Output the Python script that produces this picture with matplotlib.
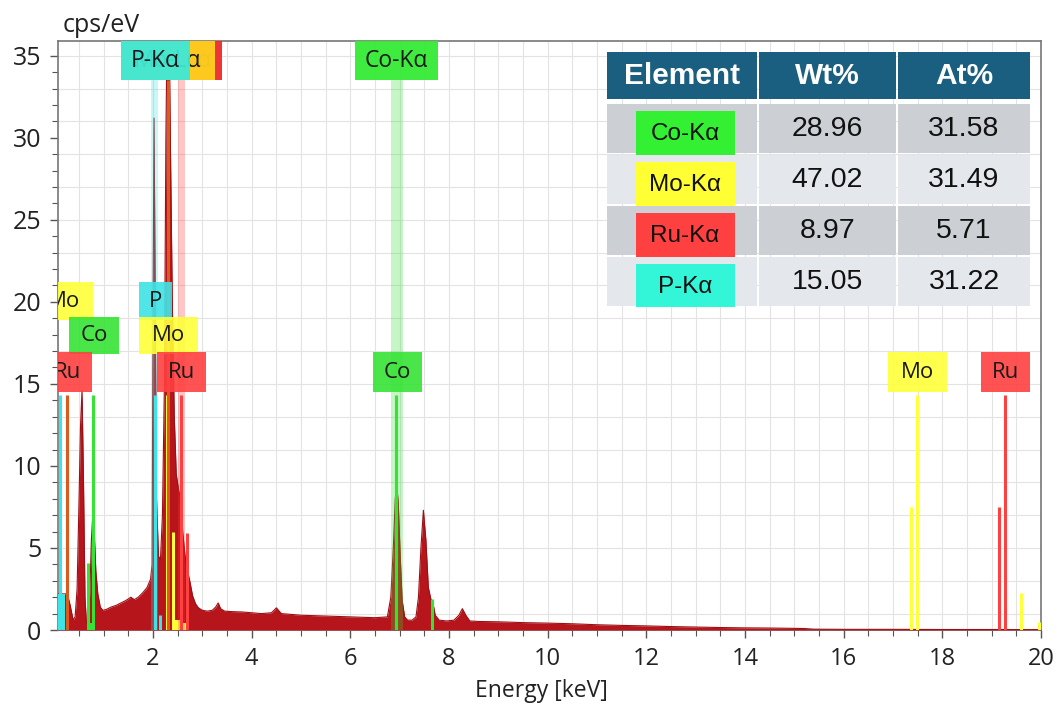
import matplotlib
matplotlib.use("Agg")
import matplotlib.pyplot as plt
from matplotlib.patches import Rectangle
from matplotlib.ticker import MultipleLocator

# spectrum (keV, cps/eV)
energy = [0.07, 0.26, 0.27, 0.32, 0.38, 0.42, 0.46, 0.50, 0.53, 0.56, 0.59, 0.62, 0.65,
          0.69, 0.72, 0.75, 0.78, 0.81, 0.84, 0.88, 0.93, 0.98, 1.05, 1.15, 1.25, 1.35,
          1.45, 1.55, 1.62, 1.70, 1.80, 1.88, 1.95, 1.98, 2.00, 2.02, 2.04, 2.07, 2.11,
          2.15, 2.19, 2.23, 2.26, 2.29, 2.32, 2.35, 2.39, 2.43, 2.47, 2.52, 2.56, 2.60,
          2.65, 2.70, 2.75, 2.80, 2.86, 2.92, 3.00, 3.10, 3.20, 3.27, 3.32, 3.37, 3.45,
          3.6, 3.8, 4.0, 4.2, 4.4, 4.5, 4.6, 4.8, 5.0, 5.5, 6.0, 6.5, 6.75, 6.82, 6.87,
          6.91, 6.94, 6.97, 7.01, 7.05, 7.10, 7.16, 7.25, 7.33, 7.38, 7.43, 7.48, 7.53,
          7.58, 7.63, 7.67, 7.72, 7.80, 7.95, 8.10, 8.20, 8.27, 8.34, 8.42, 8.6, 9.0,
          9.5, 10.0, 10.5, 11.0, 11.5, 12.0, 12.5, 13.0, 13.5, 14.0, 14.5, 15.0, 15.2,
          15.4, 16.0, 17.0, 18.0, 19.0, 20.0]
counts = [2.2, 2.2, 2.1, 1.5, 0.6, 0.8, 2.5, 8.0, 12.5, 14.6, 9.0, 2.0, 0.4,
          0.5, 2.5, 5.5, 7.1, 5.8, 3.6, 2.2, 1.4, 1.2, 1.25, 1.4, 1.5, 1.65,
          1.8, 2.0, 1.85, 2.0, 2.3, 2.6, 3.1, 4.0, 20.0, 31.2, 22.0, 8.0, 4.5,
          4.3, 7.0, 15.0, 30.0, 38.0, 38.0, 30.0, 20.0, 13.0, 9.5, 8.5, 8.0, 6.0,
          4.5, 3.6, 2.9, 2.1, 1.6, 1.35, 1.2, 1.15, 1.2, 1.4, 1.65, 1.3, 1.15,
          1.12, 1.1, 1.05, 1.0, 1.05, 1.35, 1.0, 0.95, 0.9, 0.85, 0.8, 0.75, 0.8, 2.0, 5.0,
          8.0, 8.8, 7.8, 4.5, 1.8, 0.8, 0.6, 0.6, 0.8, 2.0, 5.0, 7.3, 5.5,
          2.6, 1.9, 1.7, 0.9, 0.6, 0.55, 0.6, 0.9, 1.3, 0.9, 0.55, 0.52, 0.5,
          0.45, 0.42, 0.38, 0.32, 0.28, 0.25, 0.21, 0.18, 0.15, 0.13, 0.12, 0.1, 0.09,
          0.05, 0.04, 0.04, 0.03, 0.03, 0.02]

CYAN = "#3ee3e6"
GREEN = "#35e335"
YELLOW = "#ffff3a"
RED = "#ff4040"
ORANGE = "#dc5a1c"
FILL = "#b5151b"

# element marker lines
marker_e = [0.12, 0.26, 0.68, 0.78, 2.03, 2.14, 2.28, 2.31, 2.40, 2.56, 2.69, 6.93,
            7.65, 17.37, 17.48, 19.14, 19.28, 19.60, 19.96]
marker_h = [14.3, 14.3, 4.1, 14.3, 14.3, 0.9, 14.3, 33.55, 6.0, 14.3, 5.9, 14.3,
            1.9, 7.5, 14.3, 7.5, 14.3, 2.25, 0.5]
marker_c = [CYAN, ORANGE, GREEN, GREEN, CYAN, CYAN, YELLOW, ORANGE, YELLOW, RED, RED, GREEN,
            GREEN, YELLOW, YELLOW, RED, RED, YELLOW, YELLOW]

# small coloured patches under the spectrum
over_e = [0.14, 0.74, 2.48, 2.62]
over_w = [0.14, 0.14, 0.16, 0.10]
over_h = [2.2, 0.4, 0.6, 0.4]
over_c = [CYAN, GREEN, YELLOW, YELLOW]

# translucent highlight bands of the Kα labels
band_e = [2.03, 2.58, 6.94]
band_w = [0.13, 0.14, 0.24]
band_c = [CYAN, "#ff3333", "#33dd33"]

# element labels on the spectrum
lab_text = ["Mo", "P", "Co", "Mo", "Ru", "Ru", "Co", "Mo", "Ru"]
lab_e = [0.18, 2.05, 0.80, 2.31, 0.27, 2.58, 6.95, 17.49, 19.28]
lab_w = [1.2, 0.67, 1.0, 1.2, 1.0, 1.0, 1.0, 1.2, 1.0]
lab_row = [2, 2, 1, 1, 0, 0, 0, 0, 0]
lab_c = [YELLOW, CYAN, GREEN, YELLOW, RED, RED, GREEN, YELLOW, RED]
row_y0 = [14.5, 16.8, 18.9]
row_h = [2.45, 2.3, 2.3]

# Kα labels at the top
top_text = ["Ru-Lα", "Mo-Lα", "P-Kα", "Co-Kα"]
top_e = [2.58, 2.30, 2.05, 6.94]
top_w = [1.62, 1.90, 1.40, 1.68]
top_c = ["#ee2b2b", "#ffd21e", "#3de8d8", "#33ea33"]

# quantification table
elements = ["Co-Kα", "Mo-Kα", "Ru-Kα", "P-Kα"]
elem_colors = ["#33f033", "#ffff33", "#ff4040", "#33f5d8"]
wt = [28.96, 47.02, 8.97, 15.05]
at = [31.58, 31.49, 5.71, 31.22]
headers = ["Element", "Wt%", "At%"]

plt.rcParams['font.family'] = ['Open Sans', 'DejaVu Sans']

fig = plt.figure(figsize=(10.59, 7.15), dpi=100)
ax = fig.add_axes([58 / 1059, 85 / 715, 983 / 1059, 589 / 715])
ax.set_xlim(0.073, 20.0)
ax.set_ylim(0, 35.9)

ax.xaxis.set_major_locator(MultipleLocator(2))
ax.xaxis.set_minor_locator(MultipleLocator(0.5))
ax.yaxis.set_major_locator(MultipleLocator(5))
ax.yaxis.set_minor_locator(MultipleLocator(1))
ax.grid(which='both', axis='x', color='#e3e3e3', lw=0.8)
for gy in range(1, 36, 2):
    ax.axhline(gy, color='#e3e3e3', lw=0.8, zorder=0.5)
ax.set_axisbelow(True)
for s in ax.spines.values():
    s.set_color('#777777')
    s.set_linewidth(1.2)
ax.tick_params(which='major', length=6, width=1, color='#555555')
ax.tick_params(which='minor', length=4, width=0.8, color='#555555')
ax.tick_params(axis='y', labelsize=18, pad=6, labelcolor='#222222')
ax.tick_params(axis='x', labelsize=17, pad=6, labelcolor='#222222')

# spectrum
ax.fill_between(energy, 0, counts, color=FILL, lw=0, zorder=3)
ax.plot(energy, counts, color='#9c1015', lw=0.8, zorder=3)
ax.bar(over_e, over_h, width=over_w, color=over_c, zorder=3.5, lw=0)

for e, w, c in zip(band_e, band_w, band_c):
    ax.axvspan(e - w / 2, e + w / 2, ymin=0, ymax=33.55 / 35.9, color=c, alpha=0.28, lw=0, zorder=4)

ax.vlines(marker_e, 0, marker_h, colors=marker_c, lw=2.2, zorder=5)

for i in sorted(range(len(lab_text)), key=lambda k: -lab_row[k]):
    r = lab_row[i]
    ax.add_patch(Rectangle((lab_e[i] - lab_w[i] / 2, row_y0[r]), lab_w[i], row_h[r],
                           color=lab_c[i], alpha=0.9, lw=0, zorder=6))
    ax.text(lab_e[i], row_y0[r] + row_h[r] / 2, lab_text[i], ha='center', va='center',
            fontsize=16, color='#1a1a1a', zorder=7, clip_on=True)

for i in range(len(top_text)):
    ax.add_patch(Rectangle((top_e[i] - top_w[i] / 2, 33.55), top_w[i], 2.35,
                           color=top_c[i], alpha=0.95, lw=0, zorder=6 + i * 0.1))
    ax.text(top_e[i], 34.7, top_text[i], ha='center', va='center', fontsize=16.5,
            color='#1a1a1a', zorder=6.05 + i * 0.1, clip_on=True)

fig.text(63 / 1059, 1 - 32 / 715, "cps/eV", fontsize=18, color='#222222', va='baseline')
fig.text(541 / 1059, 1 - 691 / 715, "Energy [keV]", fontsize=16.5, color='#222222',
         ha='center', va='center')

# table drawn in its own pixel-based axes
tax = fig.add_axes([607 / 1059, 1 - 307 / 715, 423 / 1059, 255 / 715])
tax.set_xlim(0, 423)
tax.set_ylim(255, 0)
tax.axis('off')
col_x = [0, 152, 291]
col_w = [150, 137, 132]
tfont = ['Liberation Sans', 'DejaVu Sans']
for j, h in enumerate(headers):
    tax.add_patch(Rectangle((col_x[j], 0), col_w[j], 47, color='#1a5e80', lw=0))
    tax.text(col_x[j] + col_w[j] / 2, 24, h, ha='center', va='center', fontsize=21.5,
             fontweight='bold', color='white', family=tfont)
for i in range(len(elements)):
    top = 52 + 51 * i
    bg = '#ccd0d5' if i % 2 == 0 else '#e4e7eb'
    for j in range(3):
        tax.add_patch(Rectangle((col_x[j], top), col_w[j], 49, color=bg, lw=0))
    tax.add_patch(Rectangle((29, top + 7), 99, 44, color=elem_colors[i], lw=0, zorder=3))
    tax.text(78, top + 30, elements[i], ha='center', va='center', fontsize=17.5,
             color='#111111', family=tfont, zorder=4)
    tax.text(col_x[1] + col_w[1] / 2, top + 25, f"{wt[i]:.2f}", ha='center', va='center',
             fontsize=20.5, color='#111111', family=tfont)
    tax.text(col_x[2] + col_w[2] / 2, top + 25, f"{at[i]:.2f}", ha='center', va='center',
             fontsize=20.5, color='#111111', family=tfont)

fig.savefig("out.png", dpi=100)
